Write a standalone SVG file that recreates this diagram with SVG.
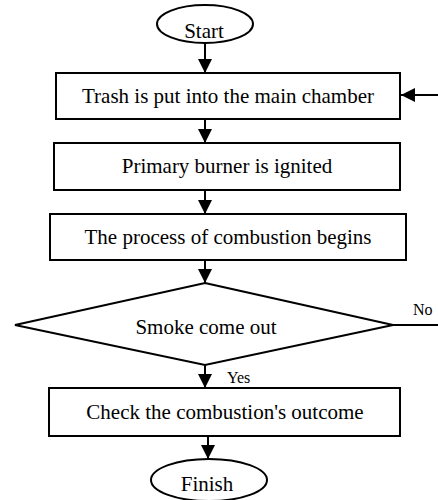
<svg xmlns="http://www.w3.org/2000/svg" width="438" height="500" viewBox="0 0 438 500">
<style>
.s{fill:#fff;stroke:#000;stroke-width:2}
.c{fill:none;stroke:#000;stroke-width:2}
</style>
<defs>
<marker id="a" markerUnits="userSpaceOnUse" markerWidth="14" markerHeight="15" refX="14" refY="7" orient="auto">
<path d="M0,0 L14,7 L0,14 Z" fill="#000"/>
</marker>
</defs>
<rect width="438" height="500" fill="#fff"/>
<g id="connectors">
<line class="c" x1="205" y1="43" x2="205" y2="73" marker-end="url(#a)"/>
<line class="c" x1="205" y1="119" x2="205" y2="143" marker-end="url(#a)"/>
<line class="c" x1="205" y1="190" x2="205" y2="214" marker-end="url(#a)"/>
<line class="c" x1="205" y1="260" x2="205" y2="283" marker-end="url(#a)"/>
<line class="c" x1="205" y1="365" x2="205" y2="388" marker-end="url(#a)"/>
<line class="c" x1="208" y1="436" x2="208" y2="459" marker-end="url(#a)"/>
<line class="c" x1="438" y1="95" x2="401" y2="95" marker-end="url(#a)"/>
<line class="c" x1="393" y1="325" x2="438" y2="325"/>
<g font-family="Liberation Serif, Times New Roman, serif" font-size="16" fill="#000">
<text x="413" y="315">No</text>
<text x="227" y="383">Yes</text>
</g>
</g>
<g font-family="Liberation Serif, Times New Roman, serif" font-size="21" fill="#000" text-anchor="middle">
<g id="start">
<ellipse class="s" cx="205" cy="24" rx="48" ry="19"/>
<text x="204" y="38">Start</text>
</g>
<g id="trash">
<rect class="s" x="56" y="73" width="344" height="46"/>
<text x="228" y="103">Trash is put into the main chamber</text>
</g>
<g id="burner">
<rect class="s" x="54" y="143" width="346" height="47"/>
<text x="227" y="173">Primary burner is ignited</text>
</g>
<g id="combustion">
<rect class="s" x="50" y="214" width="356" height="46"/>
<text x="228" y="244">The process of combustion begins</text>
</g>
<g id="smoke">
<polygon class="s" points="205,283 393,325 205,365 15,325"/>
<text x="206" y="334">Smoke come out</text>
</g>
<g id="check">
<rect class="s" x="49" y="388" width="351" height="48"/>
<text x="225" y="419">Check the combustion's outcome</text>
</g>
<g id="finish">
<ellipse class="s" cx="209" cy="480" rx="58" ry="21"/>
<text x="207" y="491">Finish</text>
</g>
</g>
</svg>
